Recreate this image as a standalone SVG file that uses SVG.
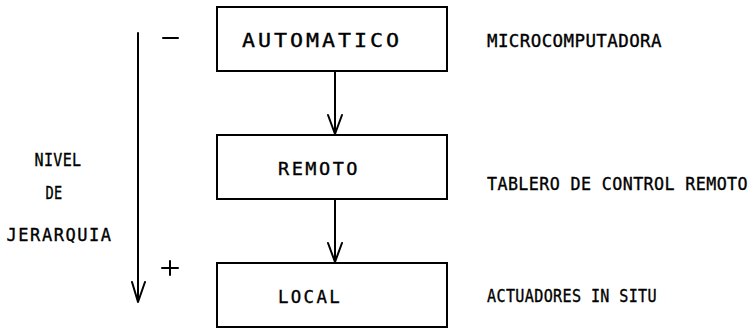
<svg xmlns="http://www.w3.org/2000/svg" width="754" height="330" viewBox="0 0 754 330">
  <defs>
    <style>
      .box { fill: #ffffff; stroke: #000000; stroke-width: 2; }
      .ln { fill: none; stroke: #000000; stroke-width: 2; stroke-linecap: round; stroke-linejoin: round; }
      .t { font-family: "DejaVu Sans Mono", "Liberation Mono", monospace; fill: #000000; stroke: #000000; stroke-width: 0.35; }
      .big { font-size: 19px; letter-spacing: 2.6px; }
      .mid { font-size: 18px; letter-spacing: 2.4px; }
      .sm { font-size: 17px; letter-spacing: 0.4px; }
    </style>
  </defs>
  <rect width="754" height="330" fill="#ffffff"/>

  <!-- hierarchy axis: level label and downward arrow -->
  <g id="hierarchy">
    <text class="t sm" x="58" y="166" text-anchor="middle" textLength="47" lengthAdjust="spacingAndGlyphs">NIVEL</text>
    <text class="t sm" x="54" y="199" text-anchor="middle" textLength="17" lengthAdjust="spacingAndGlyphs">DE</text>
    <text class="t sm" x="59" y="241" text-anchor="middle" textLength="105" lengthAdjust="spacing">JERARQUIA</text>
    <path class="ln" d="M138 33 V302 M132 282 L138 302 L145 282"/>
    <path class="ln" d="M163 38 H178"/>
    <path class="ln" d="M162 268 H178 M170 261 V275"/>
  </g>

  <g id="automatico">
    <rect class="box" x="217" y="7" width="230" height="64"/>
    <text class="t big" x="242" y="47" textLength="160" lengthAdjust="spacingAndGlyphs">AUTOMATICO</text>
    <text class="t sm" x="487" y="47" textLength="175" lengthAdjust="spacingAndGlyphs">MICROCOMPUTADORA</text>
  </g>

  <g id="remoto">
    <rect class="box" x="217" y="135" width="230" height="64"/>
    <text class="t mid" x="278" y="175" textLength="82" lengthAdjust="spacingAndGlyphs">REMOTO</text>
    <text class="t sm" x="487" y="190" textLength="261" lengthAdjust="spacingAndGlyphs">TABLERO DE CONTROL REMOTO</text>
  </g>

  <g id="local">
    <rect class="box" x="217" y="263" width="230" height="64"/>
    <text class="t mid" x="278" y="303" textLength="64" lengthAdjust="spacingAndGlyphs">LOCAL</text>
    <text class="t sm" x="487" y="302" textLength="170" lengthAdjust="spacingAndGlyphs">ACTUADORES IN SITU</text>
  </g>

  <g id="connectors">
    <path class="ln" d="M335 71 V134 M328 115 L335 134 L342 115"/>
    <path class="ln" d="M335 199 V262 M328 243 L335 262 L342 243"/>
  </g>
</svg>
